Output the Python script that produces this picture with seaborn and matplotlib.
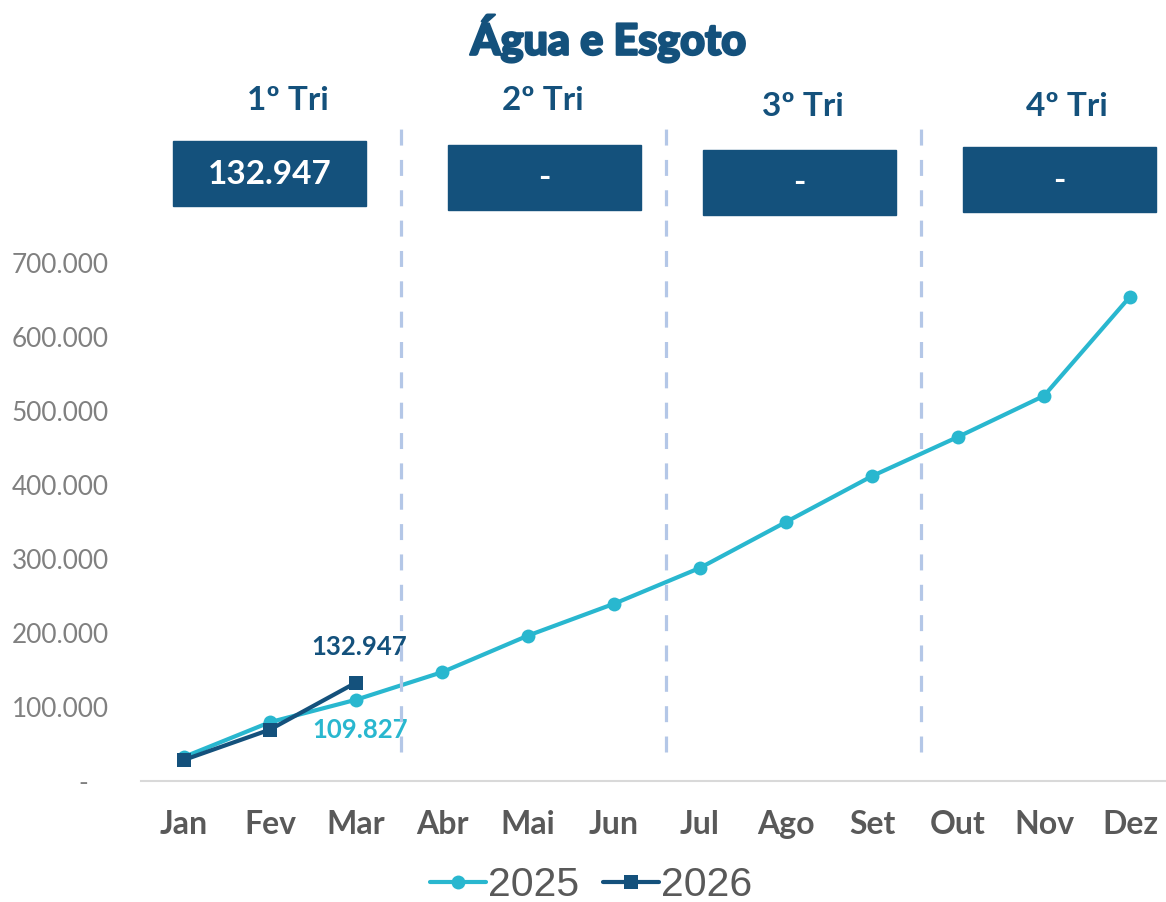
import pandas as pd
import seaborn as sns
import matplotlib.pyplot as plt
import matplotlib.patheffects as pe
from matplotlib.patches import Rectangle
from matplotlib.ticker import FuncFormatter
from matplotlib.lines import Line2D

meses = ["Jan", "Fev", "Mar", "Abr", "Mai", "Jun", "Jul", "Ago", "Set", "Out", "Nov", "Dez"]
valores_2025 = [32500, 79500, 109827, 147000, 196500, 239500, 288000, 350000, 412000, 465000, 520500, 654500]
valores_2026 = [28500, 69500, 132947]
trimestres = ["1º Tri", "2º Tri", "3º Tri", "4º Tri"]
valores_tri = ["132.947", "-", "-", "-"]

azul = "#14517C"
ciano = "#29B7CF"
cinza = "#808080"

df = pd.concat([
    pd.DataFrame({"mes": meses, "valor": valores_2025, "ano": "2025"}),
    pd.DataFrame({"mes": meses[:3], "valor": valores_2026, "ano": "2026"}),
])

sns.set_style("white")
plt.rcParams["font.family"] = ["Lato", "DejaVu Sans"]

W, H = 1166, 902
fig = plt.figure(figsize=(W / 100, H / 100), dpi=100)
ax = fig.add_axes([141 / W, 1 - 781 / H, 1032 / W, 518 / H])
ax.patch.set_alpha(0)

sns.lineplot(data=df, x="mes", y="valor", hue="ano", style="ano",
             palette={"2025": ciano, "2026": azul},
             markers={"2025": "o", "2026": "s"}, dashes=False,
             linewidth=3, markersize=10, markeredgewidth=0,
             sort=False, legend=False, ax=ax)

ax.set_xlim(-0.5, 11.5)
ax.set_ylim(0, 700000)
ax.set_yticks(range(0, 700001, 100000))
ax.yaxis.set_major_formatter(FuncFormatter(
    lambda v, p: "-   " if v == 0 else f"{int(v):,}".replace(",", ".")))
ax.set_xlabel("")
ax.set_ylabel("")
for s in ["top", "right", "left"]:
    ax.spines[s].set_visible(False)
ax.spines["bottom"].set_color("#D9D9D9")
ax.spines["bottom"].set_linewidth(1.5)
ax.spines["bottom"].set_bounds(-0.5, 11.42)
ax.tick_params(axis="y", length=0, pad=23, labelsize=18.8, labelcolor=cinza)
ax.tick_params(axis="x", length=0, pad=21, labelsize=23, labelcolor="#595959")
for t in ax.get_xticklabels():
    t.set_fontweight("bold")

# divisores de trimestre (formas soltas, em pixels)
for xp in [401, 666, 921]:
    fig.add_artist(Line2D([xp / W, xp / W], [1 - 752 / H, 1 - 122 / H], color="#B4C7E7",
                          lw=2.3, linestyle=(0, (5, 4.5)), zorder=5))

# rotulos dos pontos de marco
ax.annotate(f"{valores_2026[2]:,}".replace(",", "."), (2, valores_2026[2]),
            xytext=(2, 26), textcoords="offset points", ha="center", va="center",
            fontsize=18.5, fontweight="bold", color=azul)
ax.annotate(f"{valores_2025[2]:,}".replace(",", "."), (2, valores_2025[2]),
            xytext=(3, -22), textcoords="offset points", ha="center", va="center",
            fontsize=18.5, fontweight="bold", color=ciano)

# titulos e caixas dos trimestres
fig.text(608 / W, 1 - 38 / H, "Água e Esgoto", ha="center", va="center",
         fontsize=31, fontweight="black", color=azul,
         path_effects=[pe.withStroke(linewidth=1.6, foreground=azul)])
tri_x = [288, 543, 803, 1067]
tri_y = [101, 101, 106, 106]
caixa_x = [173, 448, 703, 963]
caixa_y = [141, 145, 150, 147]
for nome, val, tx, ty, cx, cy in zip(trimestres, valores_tri, tri_x, tri_y, caixa_x, caixa_y):
    fig.text(tx / W, 1 - ty / H, nome, ha="center", va="center",
             fontsize=24, fontweight="bold", color=azul)
    fig.patches.append(Rectangle((cx / W, 1 - (cy + 65) / H), 193 / W, 65 / H,
                                 transform=fig.transFigure, color=azul, zorder=1))
    fig.text((cx + 96.5) / W, 1 - (cy + 33) / H, val, ha="center", va="center",
             fontsize=24, fontweight="bold", color="white", zorder=2)

handles = [
    Line2D([], [], color=ciano, lw=3, marker="o", markersize=10, markeredgewidth=0),
    Line2D([], [], color=azul, lw=3, marker="s", markersize=10, markeredgewidth=0),
]
fig.legend(handles, ["2025", "2026"], loc="center", bbox_to_anchor=(591 / W, 1 - 885 / H),
           ncol=2, frameon=False, handlelength=1.35, handletextpad=0.05, columnspacing=0.6,
           prop={"family": ["Liberation Sans", "DejaVu Sans"], "size": 29.5},
           labelcolor="#595959", borderpad=0)

fig.savefig("out.png", dpi=100)
